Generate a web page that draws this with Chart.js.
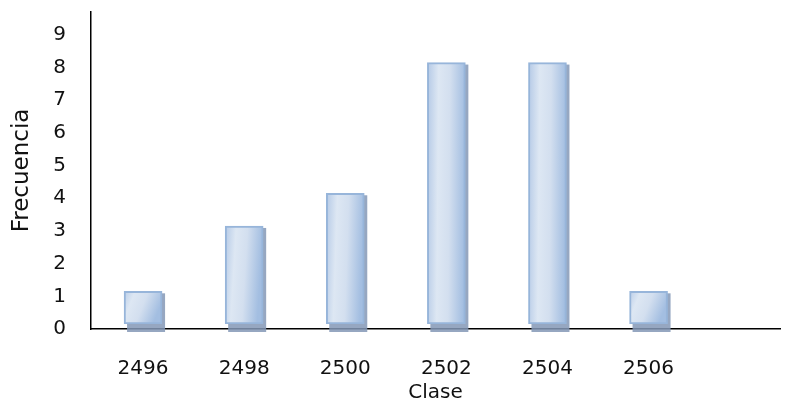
<!DOCTYPE html>
<html>
<head>
<meta charset="utf-8">
<script src="https://cdn.jsdelivr.net/npm/chart.js@4"></script>
<style>
  html, body { margin: 0; padding: 0; background: #fff; }
  #wrap { width: 789px; height: 403px; }
</style>
</head>
<body>
<div id="wrap"><canvas id="histChart" width="789" height="403"></canvas></div>
<script>
var clases = [2496, 2498, 2500, 2502, 2504, 2506];
var frecuencias = [1, 3, 4, 8, 8, 1];
var yTicks = [0, 1, 2, 3, 4, 5, 6, 7, 8, 9];

var FONT = '"DejaVu Sans", Verdana, sans-serif';

// drop shadow behind each bar, gradient face, and a small lift of the front face
var barDepth = {
    id: 'barDepth',
    beforeDatasetDraw: function (chart, args) {
        var ctx = chart.ctx;
        var meta = args.meta;
        ctx.save();
        ctx.fillStyle = 'rgba(132, 152, 182, 0.85)';
        meta.data.forEach(function (bar) {
            var p = bar.getProps(['x', 'y', 'base', 'width'], true);
            ctx.fillRect(p.x - p.width / 2 + 3, p.y - 3, p.width, p.base - p.y + 6);

            var x0 = p.x - p.width / 2, x1 = p.x + p.width / 2;
            var h = Math.max(p.base - p.y, 1);
            var r = Math.min(1, p.width / h);
            var tilt = p.width * 0.4 * r * r;
            var g = ctx.createLinearGradient(x0, p.y - 5, x1, p.y - 5 + tilt);
            g.addColorStop(0, '#b4c9e6');
            g.addColorStop(0.3, '#dde7f3');
            g.addColorStop(0.6, '#d3dfef');
            g.addColorStop(1, '#a3bee1');
            bar.options.backgroundColor = g;
        });
        ctx.restore();
        ctx.save();
        ctx.translate(0, -5);
    },
    afterDatasetDraw: function (chart) {
        chart.ctx.restore();
    }
};

var ctx = document.getElementById('histChart').getContext('2d');
var chart = new Chart(ctx, {
    type: 'bar',
    data: {
        datasets: [{
            label: 'Frecuencia',
            data: clases.map(function (c, i) { return { x: c, y: frecuencias[i] }; }),
            backgroundColor: function () { return '#d2dfef'; },
            borderColor: '#97b5da',
            borderWidth: 2,
            borderSkipped: false,
            barThickness: 38
        }]
    },
    options: {
        responsive: false,
        animation: false,
        layout: { padding: { top: 12, right: 9, left: 0, bottom: 0 } },
        plugins: {
            legend: { display: false },
            tooltip: { enabled: false }
        },
        scales: {
            x: {
                type: 'linear',
                offset: false,
                min: 2494.97,
                max: 2508.6,
                afterBuildTicks: function (axis) {
                    axis.ticks = clases.map(function (v) { return { value: v }; });
                },
                afterFit: function (axis) {
                    axis.height = 74;
                    axis.paddingLeft = 0;
                    axis.paddingRight = 0;
                },
                grid: { display: false, drawTicks: false },
                border: { display: true, color: '#000', width: 1.5 },
                ticks: {
                    padding: 28,
                    color: '#111',
                    font: { family: FONT, size: 20 },
                    maxRotation: 0,
                    autoSkip: false,
                    callback: function (v) { return String(v); }
                },
                title: {
                    display: true,
                    text: 'Clase',
                    color: '#111',
                    font: { family: FONT, size: 20, lineHeight: 1 },
                    padding: { top: 0, bottom: 0 }
                }
            },
            y: {
                min: 0,
                max: 9.7,
                afterBuildTicks: function (axis) {
                    axis.ticks = yTicks.map(function (v) { return { value: v }; });
                },
                afterFit: function (axis) {
                    axis.width = 91;
                    axis.paddingTop = 0;
                    axis.paddingBottom = 0;
                },
                grid: { display: false, drawTicks: false },
                border: { display: true, color: '#000', width: 1.5 },
                ticks: {
                    padding: 25,
                    color: '#111',
                    font: { family: FONT, size: 20 }
                },
                title: {
                    display: true,
                    text: 'Frecuencia',
                    color: '#111',
                    font: { family: FONT, size: 23 },
                    padding: { top: 8, bottom: 0 }
                }
            }
        }
    },
    plugins: [barDepth]
});
</script>
</body>
</html>
